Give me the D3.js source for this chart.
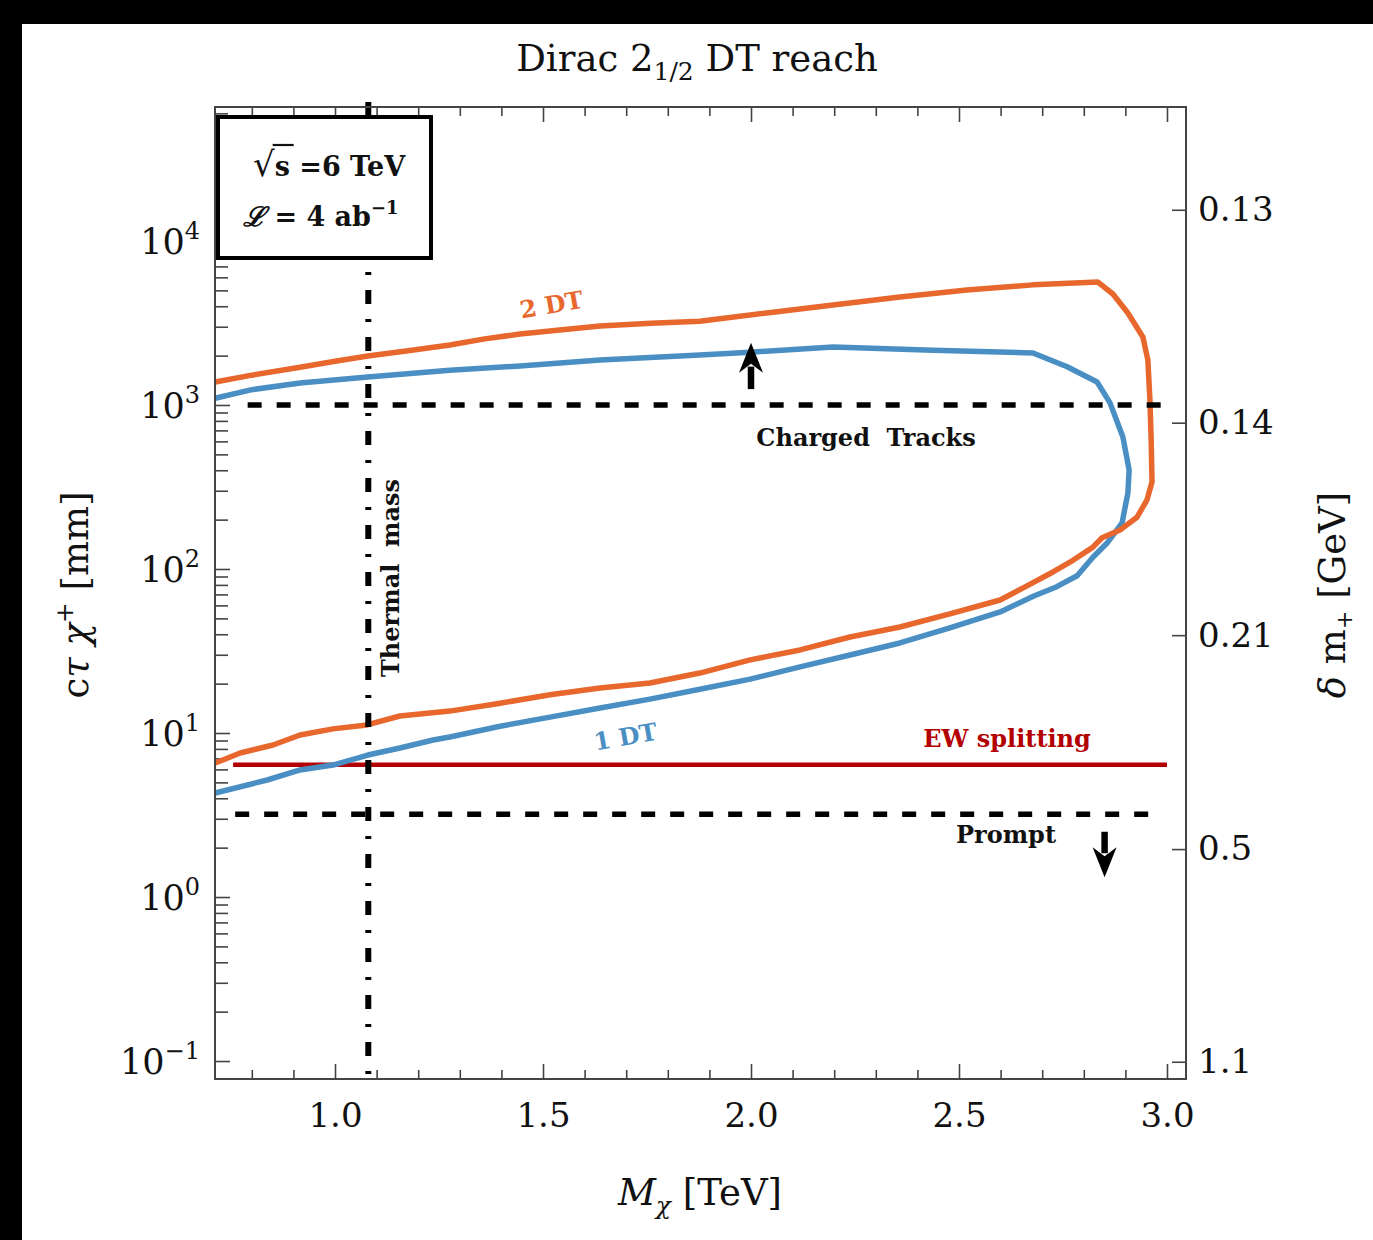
<!DOCTYPE html>
<html>
<head>
<meta charset="utf-8">
<script src="https://cdn.jsdelivr.net/npm/d3@7"></script>
<style>
  body { margin: 0; background: #000; }
  text { font-family: "DejaVu Serif", serif; }
</style>
</head>
<body>
<svg id="chart" width="1373" height="1240"></svg>
<script>
/*
  Data
*/

// x axis: chargino mass [TeV]
const massTicks = [1.0, 1.5, 2.0, 2.5, 3.0];
const massMinorTicks = [0.8, 0.9, 1.1, 1.2, 1.3, 1.4, 1.6, 1.7, 1.8, 1.9, 2.1, 2.2, 2.3, 2.4, 2.6, 2.7, 2.8, 2.9];
const massDomain = [0.7115, 3.0457];

// left axis: c tau [mm], log
const ctauDomain = [0.0777, 65600];
const ctauDecades = [0.1, 1, 10, 100, 1000, 10000];
const ctauExponents = ["\u22121", "0", "1", "2", "3", "4"];

// right axis: delta m+ [GeV], placed at the c tau they correspond to
const deltaMLabels = ["0.13", "0.14", "0.21", "0.5", "1.1"];
const deltaMCtau = [15500, 780, 39.5, 1.96, 0.099];

// 2 DT contour (upper branch left->right, then round the tip, lower branch right->left)
const twoDT_M = [0.712, 0.800, 0.916, 1.000, 1.079, 1.180, 1.276, 1.360, 1.445, 1.540, 1.637, 1.760, 1.877, 2.038, 2.197, 2.358, 2.519, 2.678, 2.834,
  2.870, 2.906, 2.942, 2.954, 2.959, 2.962, 2.964, 2.952, 2.928, 2.887, 2.844, 2.822, 2.774, 2.726,
  2.660, 2.599, 2.478, 2.358, 2.238, 2.118, 1.998, 1.877, 1.757, 1.637, 1.517, 1.397, 1.276, 1.156,
  1.077, 0.995, 0.916, 0.851, 0.772, 0.712];
const twoDT_ct = [1380, 1520, 1700, 1850, 1990, 2150, 2320, 2530, 2710, 2870, 3030, 3150, 3240, 3640, 4070, 4560, 5030, 5400, 5620,
  4750, 3640, 2600, 1880, 1070, 612, 339, 264, 207, 173, 155, 136, 113, 95.9,
  78.0, 64.7, 53.2, 44.3, 38.5, 32.1, 27.9, 23.2, 20.2, 18.8, 17.1, 15.2, 13.6, 12.7,
  11.2, 10.6, 9.72, 8.45, 7.55, 6.56];

// 1 DT contour
const oneDT_M = [0.712, 0.800, 0.916, 1.079, 1.276, 1.445, 1.637, 1.877, 1.998, 2.197, 2.438, 2.678, 2.760, 2.832,
  2.863, 2.894, 2.909, 2.906, 2.892, 2.856, 2.822, 2.784, 2.735, 2.680,
  2.599, 2.478, 2.358, 2.238, 2.118, 1.998, 1.877, 1.757, 1.637, 1.517, 1.397, 1.276, 1.236,
  1.156, 1.079, 0.995, 0.916, 0.837, 0.712];
const oneDT_ct = [1100, 1240, 1360, 1480, 1630, 1730, 1880, 2020, 2100, 2260, 2160, 2075, 1710, 1380,
  1030, 638, 402, 291, 191, 144, 118, 91.0, 78.0, 68.5,
  54.7, 43.7, 35.4, 29.9, 25.3, 21.3, 18.5, 16.1, 14.2, 12.5, 11.0, 9.45, 9.07,
  8.10, 7.34, 6.38, 5.95, 5.17, 4.31];

// reference lines [mass from, mass to, c tau]
const thermalMass = 1.08;
const chargedTracks = [0.79, 3.0, 1000];
const promptLine = [0.76, 2.97, 3.2];
const ewSplitting = [0.755, 3.0, 6.4];

// arrows [mass, c tau tail, c tau tip]
const arrowUp = [2.0, 1250, 2400];
const arrowDown = [2.85, 2.5, 1.32];

/*
  Setup
*/

const svg = d3.select("#chart");
const plot = { left: 215, right: 1186, top: 107, bottom: 1079 };
const orange = "#e8672d", blue = "#4a8fc3", red = "#b30000";

svg.append("rect").attr("x", 22).attr("y", 24).attr("width", 1373 - 22).attr("height", 1240 - 24).attr("fill", "#fff");

const x = d3.scaleLinear().domain(massDomain).range([plot.left, plot.right]);
const y = d3.scaleLog().domain(ctauDomain).range([plot.bottom, plot.top]);

// log minor ticks 2..9 per decade
let ctauMinor = [];
ctauDecades.forEach(function (d) {
  for (let k = 2; k <= 9; k++) {
    let v = d * k;
    if (v < ctauDomain[1]) ctauMinor.push(v);
  }
});

/*
  Axes
*/

function cleanAxis(g) {
  g.select(".domain").remove();
  g.selectAll(".tick line").attr("stroke", "#444").attr("stroke-width", 1.6);
}

svg.append("g").attr("transform", `translate(0,${plot.bottom})`)
  .call(d3.axisBottom(x).tickValues(massMinorTicks).tickSize(-9).tickFormat(""))
  .call(cleanAxis);
svg.append("g").attr("transform", `translate(0,${plot.top})`)
  .call(d3.axisTop(x).tickValues(massMinorTicks).tickSize(-9).tickFormat(""))
  .call(cleanAxis);
svg.append("g").attr("transform", `translate(0,${plot.top})`)
  .call(d3.axisTop(x).tickValues(massTicks).tickSize(-15).tickFormat(""))
  .call(cleanAxis);

const bottomAxis = svg.append("g").attr("transform", `translate(0,${plot.bottom})`)
  .call(d3.axisBottom(x).tickValues(massTicks).tickSize(-15).tickPadding(24).tickFormat(d3.format(".1f")))
  .call(cleanAxis);
bottomAxis.selectAll("text").attr("font-size", 34).attr("fill", "#111")
  .style("font-family", "DejaVu Serif, serif");

svg.append("g").attr("transform", `translate(${plot.left},0)`)
  .call(d3.axisLeft(y).tickValues(ctauMinor).tickSize(-13).tickFormat(""))
  .call(cleanAxis);
svg.append("g").attr("transform", `translate(${plot.left},0)`)
  .call(d3.axisLeft(y).tickValues(ctauDecades).tickSize(-15).tickFormat(""))
  .call(cleanAxis);

const leftLabels = svg.append("g");
ctauDecades.forEach(function (d, i) {
  let t = leftLabels.append("text")
    .attr("x", plot.left - 15)
    .attr("y", y(d) + 13)
    .attr("text-anchor", "end")
    .attr("font-size", 35)
    .attr("fill", "#111");
  t.append("tspan").text("10");
  t.append("tspan").attr("font-size", 24).attr("dy", -15).text(ctauExponents[i]);
});

const rightAxis = svg.append("g").attr("transform", `translate(${plot.right},0)`)
  .call(d3.axisRight(y).tickValues(deltaMCtau).tickSize(-14).tickPadding(12)
    .tickFormat(function (d, i) { return deltaMLabels[i]; }))
  .call(cleanAxis);
rightAxis.selectAll("text").attr("font-size", 34).attr("fill", "#111")
  .style("font-family", "DejaVu Serif, serif");

/*
  Marks
*/

const lineGen = d3.line()
  .x(function (d) { return x(d[0]); })
  .y(function (d) { return y(d[1]); });

// EW splitting
svg.append("path")
  .attr("d", lineGen([[ewSplitting[0], ewSplitting[2]], [ewSplitting[1], ewSplitting[2]]]))
  .attr("stroke", red).attr("stroke-width", 4.5).attr("fill", "none");

// contours
svg.append("path")
  .attr("d", lineGen(oneDT_M.map(function (m, i) { return [m, oneDT_ct[i]]; })))
  .attr("stroke", blue).attr("stroke-width", 5.5).attr("fill", "none")
  .attr("stroke-linejoin", "round");
svg.append("path")
  .attr("d", lineGen(twoDT_M.map(function (m, i) { return [m, twoDT_ct[i]]; })))
  .attr("stroke", orange).attr("stroke-width", 5.5).attr("fill", "none")
  .attr("stroke-linejoin", "round");

// dashed lines
[chargedTracks, promptLine].forEach(function (l) {
  svg.append("path")
    .attr("d", lineGen([[l[0], l[2]], [l[1], l[2]]]))
    .attr("stroke", "#000").attr("stroke-width", 5.5)
    .attr("stroke-dasharray", "14 15").attr("fill", "none");
});

// thermal mass, dash-dot, sticking a little out of the top
svg.append("line")
  .attr("x1", x(thermalMass)).attr("x2", x(thermalMass))
  .attr("y1", plot.top - 5).attr("y2", plot.bottom)
  .attr("stroke", "#000").attr("stroke-width", 6)
  .attr("stroke-dasharray", "14 15 3 15");

// arrows
function drawArrow(a) {
  let ax = x(a[0]), y0 = y(a[1]), y1 = y(a[2]);
  let dir = y1 < y0 ? -1 : 1;
  let headLen = 30, headW = 12;
  svg.append("line")
    .attr("x1", ax).attr("x2", ax)
    .attr("y1", y0).attr("y2", y1 - dir * (headLen - 6))
    .attr("stroke", "#000").attr("stroke-width", 6.5);
  svg.append("path")
    .attr("d", `M${ax},${y1} L${ax - headW},${y1 - dir * headLen} L${ax},${y1 - dir * (headLen - 9)} L${ax + headW},${y1 - dir * headLen} Z`)
    .attr("fill", "#000");
}
drawArrow(arrowUp);
drawArrow(arrowDown);

// frame
svg.append("rect")
  .attr("x", plot.left).attr("y", plot.top)
  .attr("width", plot.right - plot.left).attr("height", plot.bottom - plot.top)
  .attr("fill", "none").attr("stroke", "#444").attr("stroke-width", 2);

/*
  Texts
*/

function label(txt, px, py, color, rot) {
  return svg.append("text")
    .attr("transform", `translate(${px},${py}) rotate(${rot || 0})`)
    .attr("text-anchor", "middle")
    .attr("font-size", 24).attr("font-weight", "bold")
    .attr("fill", color)
    .style("white-space", "pre")
    .text(txt);
}

label("2 DT", 553, 313, orange, -10);
label("1 DT", 627, 745, blue, -10);
label("EW splitting", 1007, 747, red, 0);
label("Charged  Tracks", 866, 446, "#111", 0);
label("Prompt", 1006, 843, "#111", 0);
label("Thermal  mass", 399, 578, "#111", -90);

// legend box
svg.append("rect")
  .attr("x", 218).attr("y", 117).attr("width", 213).attr("height", 141)
  .attr("fill", "#fff").attr("stroke", "#000").attr("stroke-width", 4);

const sq = svg.append("text").attr("x", 253).attr("y", 176)
  .attr("font-size", 27).attr("font-weight", "bold").attr("fill", "#111");
const rad = sq.append("tspan").attr("font-size", 34).attr("font-weight", "normal").text("\u221A");
sq.append("tspan").text("s =6 TeV");
const radW = rad.node().getComputedTextLength();
svg.append("line")
  .attr("x1", 253 + radW - 2).attr("x2", 253 + radW + 19)
  .attr("y1", 145).attr("y2", 145)
  .attr("stroke", "#111").attr("stroke-width", 2.2);

const lum = svg.append("text").attr("x", 243).attr("y", 226)
  .attr("font-size", 27).attr("font-weight", "bold").attr("fill", "#111");
lum.append("tspan").attr("font-style", "italic").text("\u2112");
lum.append("tspan").text(" = 4 ab");
lum.append("tspan").attr("font-size", 18).attr("dy", -12).text("\u22121");

// title
const title = svg.append("text").attr("x", 697).attr("y", 71)
  .attr("text-anchor", "middle").attr("font-size", 37).attr("fill", "#111");
title.append("tspan").text("Dirac 2");
title.append("tspan").attr("font-size", 25).attr("dy", 9).text("1/2");
title.append("tspan").attr("dy", -9).text(" DT reach");

// x label
const xl = svg.append("text").attr("x", 700).attr("y", 1205)
  .attr("text-anchor", "middle").attr("font-size", 37).attr("fill", "#111");
xl.append("tspan").attr("font-style", "italic").text("M");
xl.append("tspan").attr("font-style", "italic").attr("font-size", 25).attr("dy", 9).text("\u03C7");
xl.append("tspan").attr("dy", -9).text(" [TeV]");

// y label
const yl = svg.append("text").attr("transform", "translate(88,595) rotate(-90)")
  .attr("text-anchor", "middle").attr("font-size", 37).attr("fill", "#111");
yl.append("tspan").text("c");
yl.append("tspan").attr("font-style", "italic").text("\u03C4 \u03C7");
yl.append("tspan").attr("font-size", 25).attr("dy", -15).text("+");
yl.append("tspan").attr("dy", 15).text(" [mm]");

// right label
const rl = svg.append("text").attr("transform", "translate(1345,595) rotate(-90)")
  .attr("text-anchor", "middle").attr("font-size", 37).attr("fill", "#111");
rl.append("tspan").attr("font-style", "italic").text("\u03B4");
rl.append("tspan").text(" m");
rl.append("tspan").attr("font-size", 22).attr("dy", 7).text("+");
rl.append("tspan").attr("dy", -7).text(" [GeV]");
</script>
</body>
</html>
